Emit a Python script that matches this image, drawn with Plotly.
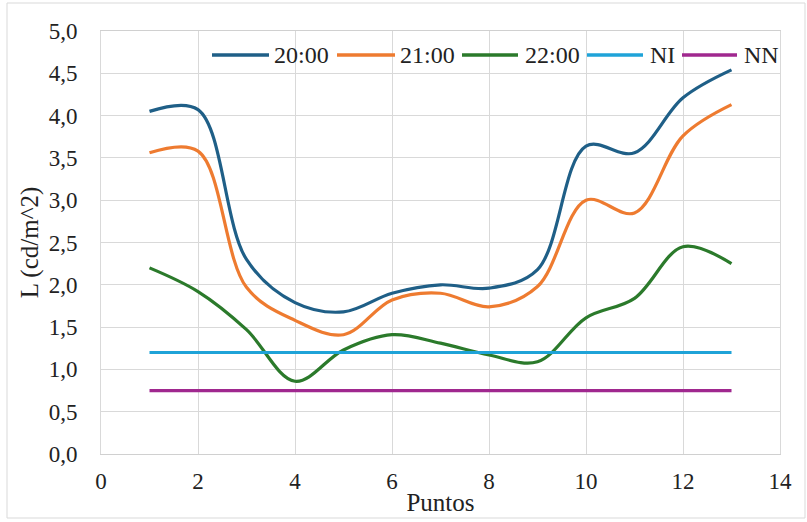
import plotly.graph_objects as go

puntos = [1, 2, 3, 4, 5, 6, 7, 8, 9, 10, 11, 12, 13]
l_2000 = [4.05, 4.07, 2.3, 1.79, 1.68, 1.9, 2.0, 1.96, 2.18, 3.64, 3.56, 4.21, 4.54]
l_2100 = [3.56, 3.58, 1.97, 1.58, 1.41, 1.82, 1.9, 1.74, 1.98, 3.0, 2.85, 3.76, 4.13]
l_2200 = [2.2, 1.92, 1.47, 0.86, 1.23, 1.41, 1.31, 1.17, 1.09, 1.61, 1.84, 2.45, 2.25]
ni = [1.2] * 13
nn = [0.75] * 13

names = ["20:00", "21:00", "22:00", "NI", "NN"]
values = [l_2000, l_2100, l_2200, ni, nn]
colors = ["#1f5f87", "#ee7b30", "#2b7a2b", "#1fa3d8", "#a0288f"]

# legend layout (pixel positions of key lines and label starts)
legend_line_px = [(212, 269), (337, 395), (462, 518), (587, 643), (682, 737)]
legend_text_px = [272, 398, 523, 648, 742]

PL, PR, PT, PB = 101, 780, 31, 454
W, H = 807, 522


def px_x(px):
    return (px - PL) / (PR - PL)


def px_y(py):
    return (PB - py) / (PB - PT)


fig = go.Figure()
for name, ys, col in zip(names, values, colors):
    fig.add_trace(go.Scatter(
        x=puntos, y=ys, name=name, mode="lines",
        line=dict(color=col, width=3.2, shape="spline", smoothing=1.0),
        showlegend=False,
    ))

font = "Liberation Serif, Tinos, DejaVu Serif, serif"
txt = "#222222"
fig.update_layout(
    width=W, height=H,
    margin=dict(l=PL, r=W - PR, t=PT, b=H - PB, autoexpand=False),
    paper_bgcolor="white", plot_bgcolor="white",
    separators=", ",
    font=dict(family=font, size=23, color=txt),
    showlegend=False,
)
fig.update_xaxes(range=[0, 14], dtick=2, tick0=0, showgrid=True, gridcolor="#d9d9d9",
                 zeroline=False, showline=True, mirror=True, linecolor="#d0d0d0",
                 ticks="", ticklabelstandoff=6, automargin=False,
                 tickfont=dict(family=font, size=23, color=txt),
                 title=dict(text="Puntos", standoff=0, font=dict(family=font, size=25, color=txt)))
fig.update_yaxes(range=[0, 5], dtick=0.5, tick0=0, tickformat=".1f", showgrid=True,
                 gridcolor="#d9d9d9", zeroline=False, showline=True, mirror=True,
                 linecolor="#d9d9d9", ticks="", ticklabelstandoff=18, automargin=False,
                 tickfont=dict(family=font, size=23, color=txt),
                 title=dict(text="L (cd/m^2)", standoff=2, font=dict(family=font, size=25, color=txt)))

# outer chart border
fig.add_shape(type="rect", xref="paper", yref="paper",
              x0=px_x(7), x1=px_x(805), y0=px_y(518), y1=px_y(3),
              line=dict(color="#d9d9d9", width=1), fillcolor="rgba(0,0,0,0)", layer="below")

# legend drawn as keys + labels
ly = px_y(55)
for name, col, (a, b), tx in zip(names, colors, legend_line_px, legend_text_px):
    fig.add_shape(type="line", xref="paper", yref="paper",
                  x0=px_x(a), x1=px_x(b), y0=ly, y1=ly,
                  line=dict(color=col, width=3.4))
    fig.add_annotation(xref="paper", yref="paper", x=px_x(tx), y=ly,
                       xanchor="left", yanchor="middle", showarrow=False,
                       text=name, font=dict(family=font, size=24, color=txt))

fig.write_html("out.html", config={"displayModeBar": False},
               post_script="document.body.style.margin='0px';")
